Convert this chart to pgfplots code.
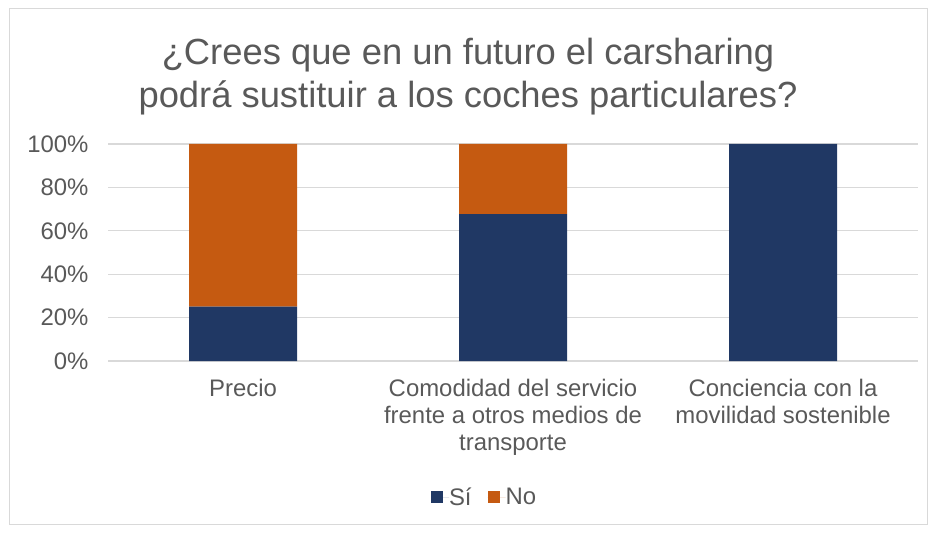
\documentclass[border=0pt]{standalone}
\usepackage{pgfplots}
\pgfplotsset{compat=1.18}
\usepackage{fontspec}
\setmainfont{Liberation Sans}
\definecolor{siblue}{RGB}{32,56,100}
\definecolor{noorange}{RGB}{197,90,17}
\definecolor{gridgray}{RGB}{217,217,217}
\definecolor{txtgray}{RGB}{89,89,89}
\begin{document}
\begin{tikzpicture}
\path[use as bounding box] (0,0) rectangle (936bp,534bp);
\draw[gridgray, line width=1bp] (9bp,9bp) rectangle (927bp,525bp);
\node[anchor=base, text=txtgray, font=\fontsize{36.5}{42}\selectfont] at (468bp,469bp) {¿Crees que en un futuro el carsharing};
\node[anchor=base, text=txtgray, font=\fontsize{36.5}{42}\selectfont] at (468bp,426bp) {podrá sustituir a los coches particulares?};
\begin{axis}[
  at={(108bp,173bp)}, anchor=south west,
  scale only axis, width=810bp, height=217bp,
  ybar stacked, bar width=108bp,
  xmin=-0.5, xmax=2.5, ymin=0, ymax=100,
  xtick={0,1,2},
  xticklabels={Precio, Comodidad del servicio\\frente a otros medios de\\transporte, Conciencia con la\\movilidad sostenible},
  xticklabel style={align=center, text=txtgray, font=\fontsize{24}{27}\selectfont, anchor=north, yshift=-15bp},
  ytick={0,20,40,60,80,100},
  yticklabel={\pgfmathprintnumber{\tick}\%},
  /pgf/number format/assume math mode=true,
  yticklabel style={text=txtgray, font=\fontsize{24}{27}\selectfont, xshift=-16bp},
  major tick length=0pt,
  axis line style={draw=none},
  ymajorgrids, grid style={gridgray, line width=1.3bp},
  legend style={at={(431bp-108bp,-136bp)}, anchor=west, draw=none, inner sep=0pt, outer sep=0pt, legend columns=2, font=\fontsize{24}{27}\selectfont, text=txtgray,
    /tikz/every even column/.append style={column sep=16bp},
    nodes={inner xsep=0pt, inner ysep=2bp}},
  legend cell align=left,
  legend image code/.code={\fill[#1] (0bp,-6bp) rectangle (12bp,6bp); \path (0bp,0bp) -- (18bp,0bp);},
  clip=false,
]
\addplot[fill=siblue, draw=none] coordinates {(0,25) (1,67.7) (2,100)};
\addplot[fill=noorange, draw=none] coordinates {(0,75) (1,32.3) (2,0)};
\legend{Sí, No}
\draw[gridgray, line width=1.3bp] (axis cs:-0.5,0) -- (axis cs:2.5,0);
\end{axis}
\end{tikzpicture}
\end{document}
